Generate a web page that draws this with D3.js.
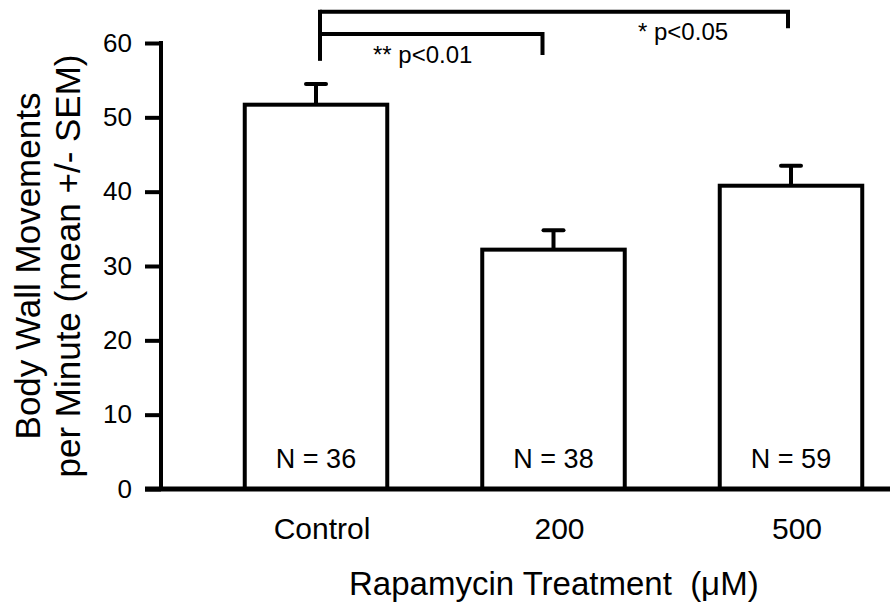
<!DOCTYPE html>
<html>
<head>
<meta charset="utf-8">
<script src="https://cdn.jsdelivr.net/npm/d3@7.9.0/dist/d3.min.js"></script>
<style>
  body { margin: 0; background: #fff; }
  svg { display: block; font-family: Arial, "Liberation Sans", sans-serif; }
  text { fill: #000; }
</style>
</head>
<body>
<div id="chart"></div>
<script>
// data
const groups = ['Control', '200', '500'];
const means = [51.7, 32.2, 40.8];
const sems = [2.8, 2.6, 2.7];
const counts = [36, 38, 59];
const yTicks = [0, 10, 20, 30, 40, 50, 60];

// significance brackets
const brackets = [
  { from: 'Control', to: '500', level: 64.2, drop: 62.0, label: '* p<0.05' },
  { from: 'Control', to: '200', level: 61.2, drop: 58.4, label: '** p<0.01' },
];

const width = 890;
const height = 607;

const svg = d3
  .select('#chart')
  .append('svg')
  .attr('width', width)
  .attr('height', height);

const yScale = d3.scaleLinear().domain([0, 60]).range([489, 43]);
const xScale = d3.scalePoint().domain(groups).range([316, 791]);
const barWidth = xScale.step() * 0.6;

const bars = groups.map((g, i) => ({
  group: g,
  mean: means[i],
  sem: sems[i],
  n: counts[i],
}));

// error bars (drawn first so the bar top covers the stem)
const err = svg.append('g').attr('stroke', '#000').attr('stroke-width', 4);
err
  .selectAll('line.stem')
  .data(bars)
  .join('line')
  .attr('class', 'stem')
  .attr('x1', (d) => xScale(d.group))
  .attr('x2', (d) => xScale(d.group))
  .attr('y1', (d) => yScale(d.mean))
  .attr('y2', (d) => yScale(d.mean + d.sem));
err
  .selectAll('line.cap')
  .data(bars)
  .join('line')
  .attr('class', 'cap')
  .attr('x1', (d) => xScale(d.group) - 10)
  .attr('x2', (d) => xScale(d.group) + 10)
  .attr('y1', (d) => yScale(d.mean + d.sem))
  .attr('y2', (d) => yScale(d.mean + d.sem))
  .attr('stroke-linecap', 'round');

// bars
svg
  .append('g')
  .selectAll('rect')
  .data(bars)
  .join('rect')
  .attr('x', (d) => xScale(d.group) - barWidth / 2)
  .attr('y', (d) => yScale(d.mean))
  .attr('width', barWidth)
  .attr('height', (d) => yScale(0) - yScale(d.mean))
  .attr('fill', '#fff')
  .attr('stroke', '#000')
  .attr('stroke-width', 4);

// N labels inside bars
svg
  .append('g')
  .selectAll('text')
  .data(bars)
  .join('text')
  .attr('x', (d) => xScale(d.group))
  .attr('y', 468)
  .attr('text-anchor', 'middle')
  .style('font-size', '27px')
  .text((d) => `N = ${d.n}`);

// y axis
const yAxis = d3
  .axisLeft(yScale)
  .tickValues(yTicks)
  .tickSize(16)
  .tickPadding(13);

const yG = svg
  .append('g')
  .attr('transform', 'translate(161,0)')
  .call(yAxis);
yG.select('.domain').remove();
yG.selectAll('.tick line').attr('stroke', '#000').attr('stroke-width', 4);
yG.selectAll('.tick text')
  .style('font-size', '26px')
  .style('font-family', 'Arial, "Liberation Sans", sans-serif')
  .attr('fill', '#000');

svg
  .append('line')
  .attr('x1', 161)
  .attr('x2', 161)
  .attr('y1', yScale(60) - 2)
  .attr('y2', yScale(0) + 2)
  .attr('stroke', '#000')
  .attr('stroke-width', 4);

// x axis baseline
svg
  .append('line')
  .attr('x1', 145)
  .attr('x2', width)
  .attr('y1', yScale(0))
  .attr('y2', yScale(0))
  .attr('stroke', '#000')
  .attr('stroke-width', 5);

// category labels
svg
  .append('g')
  .selectAll('text')
  .data(groups)
  .join('text')
  .attr('x', (d) => xScale(d) + 6)
  .attr('y', 539)
  .attr('text-anchor', 'middle')
  .style('font-size', '30px')
  .text((d) => d);

// axis titles
svg
  .append('text')
  .attr('x', 349)
  .attr('y', 595)
  .style('font-size', '33px')
  .style('white-space', 'pre')
  .attr('xml:space', 'preserve')
  .text('Rapamycin Treatment  (\u03bcM)');

const yTitle = svg
  .append('text')
  .attr('transform', `translate(0,${(yScale(0) + yScale(60)) / 2}) rotate(-90)`)
  .attr('text-anchor', 'middle')
  .style('font-size', '35px');
yTitle.append('tspan').attr('x', 0).attr('y', 40).text('Body Wall Movements');
yTitle.append('tspan').attr('x', 0).attr('y', 80).text('per Minute (mean +/- SEM)');

// significance brackets
const bracketLeft = xScale('Control') + 4;
const bracketEnd = (b) => (b.to === '200' ? xScale(b.to) - 11 : xScale(b.to) - 3);

const brG = svg
  .append('g')
  .attr('fill', 'none')
  .attr('stroke', '#000')
  .attr('stroke-width', 4);

brG
  .append('line')
  .attr('x1', bracketLeft)
  .attr('x2', bracketLeft)
  .attr('y1', yScale(d3.max(brackets, (b) => b.level)) - 2)
  .attr('y2', yScale(57.6));

brG
  .selectAll('path')
  .data(brackets)
  .join('path')
  .attr('d', (b) => {
    const y = yScale(b.level);
    const x2 = bracketEnd(b);
    return `M${bracketLeft},${y}H${x2}V${yScale(b.drop)}`;
  });

svg
  .append('text')
  .attr('x', 373)
  .attr('y', 63)
  .style('font-size', '24px')
  .text(brackets[1].label);

svg
  .append('text')
  .attr('x', 638)
  .attr('y', 40)
  .style('font-size', '24px')
  .text(brackets[0].label);
</script>
</body>
</html>
